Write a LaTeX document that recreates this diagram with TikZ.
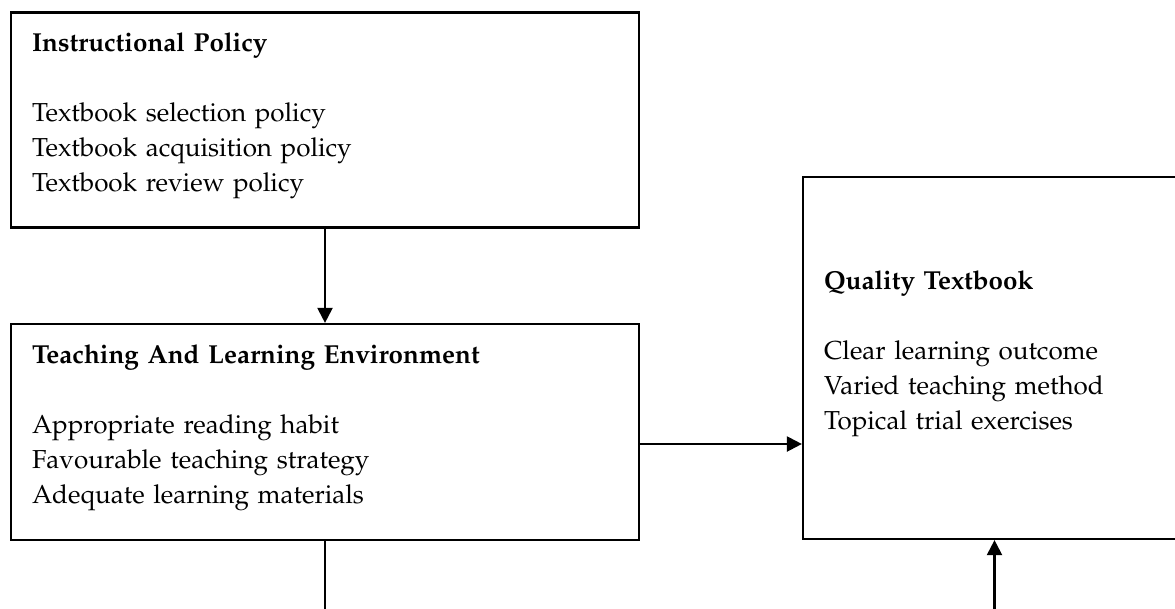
\documentclass[tikz,border=0pt]{standalone}
\usepackage[T1]{fontenc}
\usepackage{mathpazo}
\usetikzlibrary{arrows.meta}
\newcommand{\boxtail}{\rule[-16pt]{0pt}{16pt}}
\tikzset{
  box/.style={draw, line width=2.2pt, align=left, inner xsep=21pt, inner ysep=0pt,
    font=\fontsize{26}{35}\selectfont},
  link/.style={line width=2.2pt, -{Triangle[length=15pt,width=15pt]}}
}
\begin{document}
\begin{tikzpicture}[x=1pt,y=-1pt]
  \useasboundingbox (0,0) rectangle (1175,608);
  %box1
  \node[box, minimum width=628pt, minimum height=215pt, text width=586pt] (policy) at (325,120)
    {\textbf{Instructional Policy}\\[35pt]
     Textbook selection policy\\
     Textbook acquisition policy\\
     Textbook review policy\boxtail};
  %box2
  \node[box, minimum width=628pt, minimum height=216pt, text width=586pt] (environment) at (325,432)
    {\textbf{Teaching And Learning Environment}\\[35pt]
     Appropriate reading habit\\
     Favourable teaching strategy\\
     Adequate learning materials\boxtail};
  %box3
  \node[box, minimum width=547pt, minimum height=362pt, text width=505pt] (quality) at (1076.5,358)
    {\textbf{Quality Textbook}\\[35pt]
     Clear learning outcome\\
     Varied teaching method\\
     Topical trial exercises\boxtail};
  %links
  \coordinate (envout) at (325,620);
  \coordinate (qualin) at (994.5,620);
  \draw[link] (policy) -- (environment);
  \draw[link] ([yshift=-12pt]environment.east) -- ([yshift=-12pt]environment.east -| quality.west);
  \draw[line width=2.2pt] (environment.south) -- (envout);
  \draw[link] (qualin) -- (qualin |- quality.south);
\end{tikzpicture}
\end{document}
